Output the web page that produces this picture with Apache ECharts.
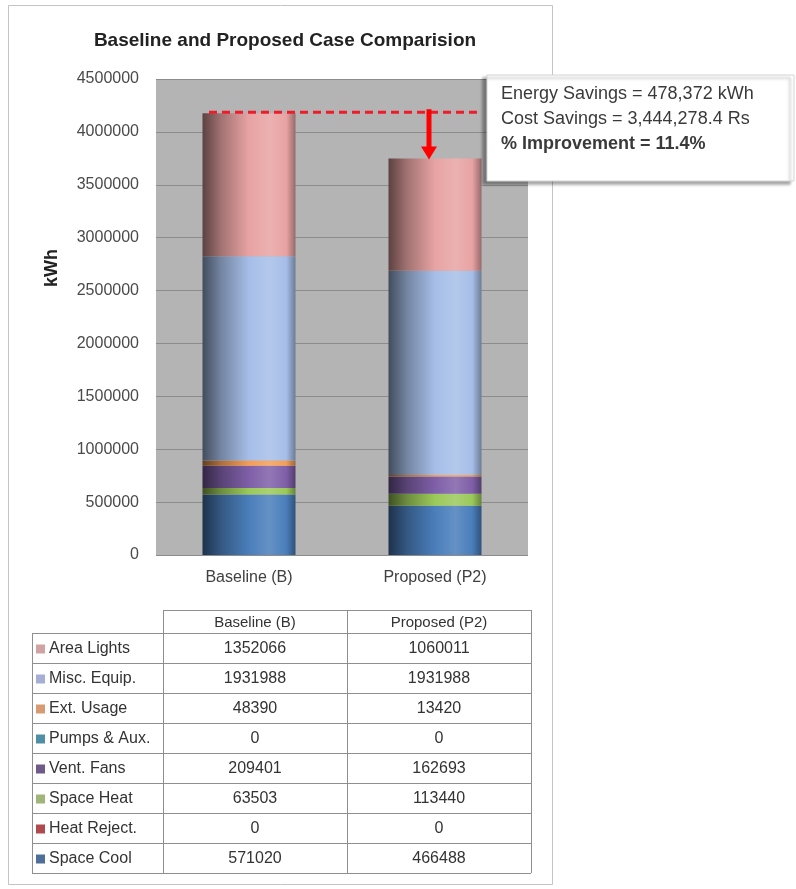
<!DOCTYPE html>
<html><head><meta charset="utf-8">
<script src="https://cdn.jsdelivr.net/npm/echarts@6/dist/echarts.min.js"></script>
<style>html,body{margin:0;padding:0;background:#fff}#c{width:796px;height:889px}</style>
</head><body><div id="c"></div>
<script>
// ---- data ----
const categories = ['Baseline (B)', 'Proposed (P2)'];
const seriesNames = ['Space Cool', 'Heat Reject.', 'Space Heat', 'Vent. Fans', 'Pumps & Aux.', 'Ext. Usage', 'Misc. Equip.', 'Area Lights'];
const baselineValues = [571020, 0, 63503, 209401, 0, 48390, 1931988, 1352066];
const proposedValues = [466488, 0, 113440, 162693, 0, 13420, 1931988, 1060011];
const seriesColors = ['#4a7ebb', '#c0504d', '#9bc95a', '#7f5fa8', '#4bacc6', '#f59d56', '#a6bee8', '#e8a3a3'];
const legendColors = ['#4f6f99', '#b04a4f', '#9fb57a', '#6f5a8a', '#4f8fa5', '#d89a73', '#a7aed6', '#d2a3a3'];
const titleText = 'Baseline and Proposed Case Comparision';
const yAxisName = 'kWh';
const annotationLines = ['Energy Savings = 478,372 kWh', 'Cost Savings = 3,444,278.4 Rs', '% Improvement = 11.4%'];

const FONT = "'Liberation Sans', Arial, sans-serif";

function hexToRgb(h){h=h.replace('#','');return [parseInt(h.substr(0,2),16),parseInt(h.substr(2,2),16),parseInt(h.substr(4,2),16)];}
function mix(hex, t, target){const c=hexToRgb(hex);const tg=target==='w'?[255,255,255]:[0,0,0];return 'rgb('+c.map((v,i)=>Math.round(v+(tg[i]-v)*t)).join(',')+')';}
function cyl(c){
  return new echarts.graphic.LinearGradient(0,0,1,0,[
    {offset:0,color:mix(c,0.6,'b')},
    {offset:0.2,color:mix(c,0.3,'b')},
    {offset:0.5,color:c},
    {offset:0.72,color:mix(c,0.15,'w')},
    {offset:0.9,color:c},
    {offset:1,color:mix(c,0.35,'b')}
  ]);
}

const chart = echarts.init(document.getElementById('c'));

chart.setOption({
  animation:false,
  backgroundColor:'#ffffff',
  title:{text:titleText,left:280,top:26,textAlign:'center',textStyle:{fontFamily:FONT,fontSize:19,fontWeight:'bold',color:'#222'}},
  grid:{left:156,top:79,width:372,height:476,show:true,backgroundColor:'#b4b4b4',borderWidth:0},
  xAxis:{type:'category',data:categories,axisLine:{show:false},axisTick:{show:false},
    axisLabel:{fontFamily:FONT,fontSize:16,color:'#404040',margin:15}},
  yAxis:{type:'value',min:0,max:4500000,interval:500000,axisLine:{show:false},axisTick:{show:false},
    axisLabel:{fontFamily:FONT,fontSize:16,color:'#4a4a4a',margin:17,formatter:v=>String(v)},
    splitLine:{lineStyle:{color:'#8c8c8c',width:1}}},
  series:seriesNames.map((name,i)=>({
    name,type:'bar',stack:'total',barWidth:'50%',
    data:[baselineValues[i],proposedValues[i]],
    itemStyle:{color:cyl(seriesColors[i])},
    emphasis:{disabled:true}
  }))
});

const sum=a=>a.reduce((s,v)=>s+v,0);
const baseTotal=sum(baselineValues), propTotal=sum(proposedValues);
const yBase=chart.convertToPixel({yAxisIndex:0},baseTotal);
const yProp=chart.convertToPixel({yAxisIndex:0},propTotal);
const xBase=chart.convertToPixel({xAxisIndex:0},categories[0]);
const xProp=chart.convertToPixel({xAxisIndex:0},categories[1]);

const g=[];
// outer frame
g.push({type:'rect',shape:{x:8.5,y:5.5,width:544,height:879},style:{fill:null,stroke:'#c4c4c4',lineWidth:1},z:1,silent:true});
// y axis name
g.push({type:'text',x:52,y:268,rotation:Math.PI/2,style:{text:yAxisName,fontFamily:FONT,fontSize:18,fontWeight:'bold',fill:'#222',align:'center',verticalAlign:'middle'},z:10});
// dashed savings line
g.push({type:'line',shape:{x1:xBase-40,y1:yBase-1,x2:xProp+42,y2:yBase-1},style:{stroke:'#ee1c2a',lineWidth:3,lineDash:[8,5]},z:20});
// arrow
const ax=xProp-6;
g.push({type:'line',shape:{x1:ax,y1:yBase-4,x2:ax,y2:yProp-10},style:{stroke:'#ff0000',lineWidth:5},z:21});
g.push({type:'polygon',shape:{points:[[ax-8,yProp-12],[ax+8,yProp-12],[ax,yProp+1]]},style:{fill:'#ff0000'},z:21});
// annotation box
g.push({type:'rect',shape:{x:487,y:75,width:307,height:106},style:{fill:'#ffffff',stroke:'#d4d4d4',lineWidth:1,shadowBlur:3,shadowOffsetX:-4,shadowOffsetY:3,shadowColor:'rgba(0,0,0,0.35)'},z:30});
annotationLines.forEach((t,i)=>{
  g.push({type:'text',x:501,y:94+i*25,style:{text:t,fontFamily:FONT,fontSize:18,fontWeight:i===2?'bold':'normal',fill:'#3a3a3a',verticalAlign:'middle'},z:31});
});

// data table
const colX=[32,163,347,531];
const headTop=610, headBot=633, rowH=30;
const lineCol='#8f8f8f';
const tableRows=seriesNames.map((n,i)=>i).reverse();
const tableBottom=headBot+rowH*tableRows.length;
g.push({type:'line',shape:{x1:colX[1],y1:headTop+0.5,x2:colX[3],y2:headTop+0.5},style:{stroke:lineCol,lineWidth:1},z:5});
[1,2,3].forEach(k=>{
  g.push({type:'line',shape:{x1:colX[k]+0.5,y1:headTop,x2:colX[k]+0.5,y2:tableBottom},style:{stroke:lineCol,lineWidth:1},z:5});
});
g.push({type:'line',shape:{x1:colX[0]+0.5,y1:headBot,x2:colX[0]+0.5,y2:tableBottom},style:{stroke:lineCol,lineWidth:1},z:5});
for(let r=0;r<=tableRows.length;r++){
  const y=headBot+r*rowH+0.5;
  g.push({type:'line',shape:{x1:colX[0],y1:y,x2:colX[3],y2:y},style:{stroke:lineCol,lineWidth:1},z:5});
}
categories.forEach((c,k)=>{
  g.push({type:'text',x:(colX[k+1]+colX[k+2])/2,y:(headTop+headBot)/2+1,style:{text:c,fontFamily:FONT,fontSize:15,fill:'#333',align:'center',verticalAlign:'middle'},z:6});
});
tableRows.forEach((si,r)=>{
  const cy=headBot+r*rowH+rowH/2+1;
  g.push({type:'rect',shape:{x:36,y:cy-4.5,width:9,height:9},style:{fill:legendColors[si]},z:6});
  g.push({type:'text',x:49,y:cy,style:{text:seriesNames[si],fontFamily:FONT,fontSize:16,fill:'#333',verticalAlign:'middle'},z:6});
  [baselineValues[si],proposedValues[si]].forEach((v,k)=>{
    g.push({type:'text',x:(colX[k+1]+colX[k+2])/2,y:cy,style:{text:String(v),fontFamily:FONT,fontSize:16,fill:'#333',align:'center',verticalAlign:'middle'},z:6});
  });
});

chart.setOption({graphic:g});
</script></body></html>
